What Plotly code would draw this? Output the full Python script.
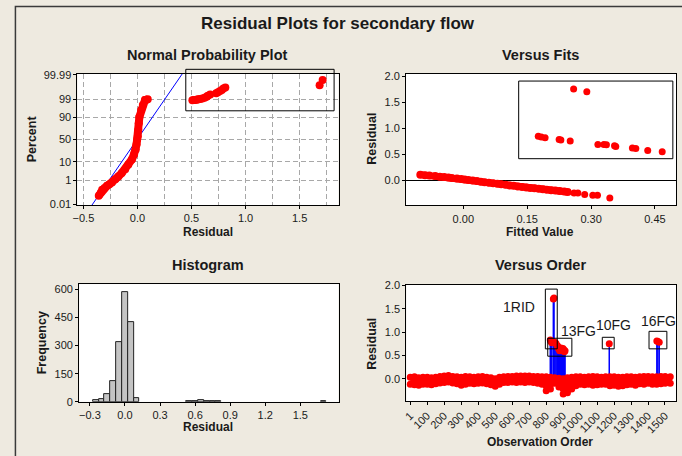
import plotly.graph_objects as go
from statistics import NormalDist

W, H = 682, 456
BG = "#EEEAE0"
RED = "#FF0000"
BLUE = "#0000FF"
FONT = "Liberation Sans"
TXT = "#1a1a1a"

# ---------------- Normal probability plot data ----------------
npp_resid = [-0.358, -0.34, -0.327, -0.305, -0.282, -0.26, -0.236, -0.205, -0.177, -0.145,
             -0.113, -0.085, -0.052, -0.032, -0.016, -0.009, -0.003, 0.003, 0.008, 0.012,
             0.018, 0.034, 0.05, 0.07, 0.083, 0.095]
npp_pct = [0.064, 0.114, 0.2, 0.28, 0.4, 0.52, 0.69, 1.13, 1.7, 2.81,
           4.46, 7.35, 12.7, 19.8, 28.4, 39, 50, 57.5, 70.9, 82.6,
           90.3, 95.5, 97.6, 98.84, 98.9, 98.96]
npp_out_resid = [0.508, 0.52, 0.53, 0.544, 0.555, 0.565, 0.581, 0.60, 0.621, 0.64,
                 0.651, 0.673, 0.728, 0.745, 0.764, 0.78, 0.795, 0.813, 1.685, 1.713]
npp_out_pct = [98.78, 98.82, 98.85, 98.9, 98.93, 98.95, 99.0, 99.08, 99.18, 99.3,
               99.41, 99.52, 99.6, 99.67, 99.73, 99.78, 99.83, 99.86, 99.91, 99.968]
npp_fit_mean = -0.004
npp_fit_sd = 0.111
npp_pct_ticks = [0.01, 1, 10, 50, 90, 99, 99.99]
npp_pct_text = ["0.01", "1", "10", "50", "90", "99", "99.99"]
npp_x_ticks = [-0.5, 0.0, 0.5, 1.0, 1.5]
npp_box_resid = [0.447, 1.819]
npp_box_pct = [95.05, 99.9972]

# ---------------- Versus fits data ----------------
fits_band_x = [-0.101, -0.09, -0.08, -0.066, -0.055, -0.045, -0.035, -0.027,
               -0.015, -0.005, 0.003, 0.012, 0.022, 0.032, 0.041, 0.05, 0.06,
               0.07, 0.08, 0.089, 0.099, 0.109, 0.118, 0.128, 0.138, 0.148, 0.157,
               0.167, 0.177, 0.187, 0.196, 0.206, 0.216, 0.226, 0.237, 0.245]
fits_band_y = [0.114, 0.104, 0.097, 0.088, 0.075, 0.068, 0.058, 0.050,
               0.038, 0.030, 0.020, 0.011, 0.000, -0.010, -0.020, -0.032, -0.040,
               -0.052, -0.060, -0.070, -0.080, -0.092, -0.100, -0.115, -0.122, -0.130, -0.140,
               -0.147, -0.158, -0.168, -0.175, -0.185, -0.192, -0.200, -0.210, -0.217]
fits_tail_x = [0.26, 0.269, 0.285, 0.304, 0.315, 0.344]
fits_tail_y = [-0.236, -0.236, -0.267, -0.28, -0.28, -0.331]
fits_out_x = [0.259, 0.290, 0.176, 0.183, 0.192, 0.225, 0.229, 0.251, 0.316, 0.330,
              0.336, 0.355, 0.358, 0.397, 0.405, 0.433, 0.467]
fits_out_y = [1.752, 1.702, 0.851, 0.832, 0.819, 0.787, 0.775, 0.756, 0.692, 0.692,
              0.686, 0.667, 0.654, 0.622, 0.616, 0.578, 0.552]
fits_box_x = [0.130, 0.492]
fits_box_y = [0.419, 1.905]

# ---------------- Histogram data ----------------
hist_mid = [-0.25, -0.2, -0.15, -0.1, -0.05, 0.0, 0.05, 0.1, 0.55, 0.6, 0.65, 0.7, 0.75, 0.8, 1.7]
hist_count = [7, 15, 40, 108, 317, 588, 425, 22, 2, 3, 9, 2, 3, 3, 2]
hist_width = 0.05

# ---------------- Versus order data ----------------
band_obs = [1, 26, 51, 76, 101, 126, 151, 176, 201, 226, 251, 276, 301, 326, 351, 376, 401, 426,
            451, 476, 501, 526, 551, 576, 601, 626, 651, 676, 701, 726, 751, 776, 801, 826, 851,
            876, 901, 926, 951, 976, 1001, 1026, 1051, 1076, 1101, 1126, 1151, 1176, 1201, 1226,
            1251, 1276, 1301, 1326, 1351, 1376, 1401, 1426, 1451, 1476, 1501, 1531]
band_hi = [0.03, 0.04, 0.02, 0.03, 0.03, 0.02, 0.03, 0.05, 0.06, 0.07, 0.05, 0.04, 0.03, 0.05, 0.04, 0.03,
           0.04, 0.05, 0.03, 0.02, 0.00, 0.03, 0.04, 0.05, 0.05, 0.06, 0.06, 0.06, 0.06, 0.05, 0.05, 0.04,
           0.04, 0.03, 0.02, 0.01, 0.00, 0.02, 0.03, 0.04, 0.04, 0.03, 0.04, 0.05, 0.04, 0.03, 0.04, 0.04,
           0.04, 0.03, 0.03, 0.04, 0.04, 0.03, 0.04, 0.05, 0.05, 0.04, 0.04, 0.05, 0.05, 0.04]
band_lo = [-0.12, -0.13, -0.14, -0.12, -0.12, -0.13, -0.11, -0.09, -0.08, -0.07, -0.09, -0.11, -0.14, -0.12,
           -0.10, -0.11, -0.10, -0.09, -0.11, -0.13, -0.16, -0.12, -0.08, -0.08, -0.07, -0.08, -0.07, -0.08,
           -0.07, -0.08, -0.10, -0.12, -0.26, -0.22, -0.10, -0.18, -0.33, -0.30, -0.22, -0.15, -0.12, -0.13,
           -0.12, -0.14, -0.13, -0.12, -0.12, -0.15, -0.14, -0.16, -0.15, -0.13, -0.12, -0.14, -0.11, -0.12,
           -0.10, -0.12, -0.12, -0.11, -0.10, -0.10]
spike_obs = [825, 829, 834, 843, 847, 852, 858, 864, 868, 872, 876, 880, 884, 888, 892, 896,
             900, 904, 908, 912, 1172, 1452, 1458, 1466]
spike_val = [0.83, 0.80, 0.77, 1.71, 1.73, 0.78, 0.76, 0.72, 0.70, 0.66, 0.64, 0.60, 0.62, 0.66, 0.63, 0.60,
             0.65, 0.62, 0.58, 0.60, 0.75, 0.81, 0.80, 0.78]
order_ticks = [1, 100, 200, 300, 400, 500, 600, 700, 800, 900, 1000, 1100, 1200, 1300, 1400, 1500]
order_labels = ["1RID", "13FG", "10FG", "16FG"]
order_label_obs = [638, 989, 1199, 1462]
order_label_res = [1.545, 1.03, 1.15, 1.23]
order_box_obs = [[796, 866], [810, 952], [1131, 1201], [1406, 1511]]
order_box_res = [[0.641, 1.923], [0.483, 0.868], [0.641, 0.889], [0.641, 1.017]]

# ---------------- layout geometry ----------------
# vertical placement is corrected for the slight vertical squeeze seen in the rendered photo
Y_OFF, Y_SCALE = 3.0, 0.98

def px_x(p):
    return p / W

def px_y(p):
    return 1 - ((p - Y_OFF) / Y_SCALE) / H

dom = {
    "npp": ([px_x(73), px_x(336)], [px_y(204), px_y(72.3)]),
    "fits": ([px_x(404), px_x(676)], [px_y(204.3), px_y(72.3)]),
    "hist": ([px_x(74.7), px_x(336)], [px_y(401.5), px_y(283.3)]),
    "order": ([px_x(404.3), px_x(676)], [px_y(400.7), px_y(284)]),
}
rng = {
    "npp": ([-0.555, 1.86], [-3.76, 3.76]),
    "fits": ([-0.1345, 0.4995], [-0.476, 2.04]),
    "hist": ([-0.392, 1.827], [0, 628]),
    "order": ([-22, 1565], [-0.479, 2.015]),
}

def to_paper(v, r, d):
    return d[0] + (v - r[0]) / (r[1] - r[0]) * (d[1] - d[0])

nd = NormalDist()
def zval(p):
    return nd.inv_cdf(p / 100.0)

fig = go.Figure()
mk = dict(color=RED, size=8, line=dict(width=0))

# Normal probability plot
zl = [rng["npp"][1][0], rng["npp"][1][1]]
fig.add_trace(go.Scatter(x=[npp_fit_mean + npp_fit_sd * z for z in zl], y=zl, mode="lines",
                         line=dict(color=BLUE, width=1), xaxis="x", yaxis="y", hoverinfo="skip"))
fig.add_trace(go.Scatter(x=npp_resid, y=[zval(p) for p in npp_pct], mode="lines+markers",
                         line=dict(color=RED, width=8), marker=mk, xaxis="x", yaxis="y"))
fig.add_trace(go.Scatter(x=npp_out_resid, y=[zval(p) for p in npp_out_pct], mode="markers",
                         marker=mk, xaxis="x", yaxis="y"))

# Versus fits
fig.add_trace(go.Scatter(x=fits_band_x, y=fits_band_y, mode="lines+markers", line=dict(color=RED, width=7),
                         marker=mk, xaxis="x2", yaxis="y2"))
fig.add_trace(go.Scatter(x=fits_tail_x + fits_out_x, y=fits_tail_y + fits_out_y, mode="markers",
                         marker=dict(color=RED, size=7, line=dict(width=0)), xaxis="x2", yaxis="y2"))

# Histogram
fig.add_trace(go.Bar(x=hist_mid, y=hist_count, width=hist_width,
                     marker=dict(color="#C4C4C4", line=dict(color="#222222", width=1)),
                     xaxis="x3", yaxis="y3"))

# Versus order
sx, sy = [], []
for o, v in zip(spike_obs, spike_val):
    sx += [o, o, None]
    sy += [0.0, v, None]
fig.add_trace(go.Scatter(x=sx, y=sy, mode="lines", line=dict(color=BLUE, width=1.5),
                         xaxis="x4", yaxis="y4", hoverinfo="skip"))
fig.add_trace(go.Scatter(x=band_obs + band_obs[::-1], y=band_hi + band_lo[::-1], mode="lines",
                         fill="toself", fillcolor=RED, line=dict(color=RED, width=2),
                         xaxis="x4", yaxis="y4", hoverinfo="skip"))
fig.add_trace(go.Scatter(x=band_obs * 2, y=band_hi + band_lo, mode="markers",
                         marker=dict(color=RED, size=7, line=dict(width=0)), xaxis="x4", yaxis="y4"))
fig.add_trace(go.Scatter(x=spike_obs, y=spike_val, mode="markers",
                         marker=dict(color=RED, size=7, line=dict(width=0)), xaxis="x4", yaxis="y4"))

def axis(d, r, **kw):
    base = dict(domain=d, range=r, showline=True, linecolor="black", linewidth=1, mirror=True,
                ticks="outside", ticklen=3, tickcolor="black", showgrid=False, zeroline=False,
                tickfont=dict(family=FONT, size=11, color=TXT), fixedrange=True)
    base.update(kw)
    return base

grid = dict(showgrid=True, gridcolor="#A8A8A8", gridwidth=1, griddash="5px,3px")

layout_axes = dict(
    xaxis=axis(dom["npp"][0], rng["npp"][0], anchor="y", tickvals=npp_x_ticks, tickformat=".1f",
               minor=dict(dtick=0.25, tick0=0, **grid, ticks=""), **grid),
    yaxis=axis(dom["npp"][1], rng["npp"][1], anchor="x", tickvals=[zval(p) for p in npp_pct_ticks],
               ticktext=npp_pct_text, **grid),
    xaxis2=axis(dom["fits"][0], rng["fits"][0], anchor="y2", tickvals=[0.0, 0.15, 0.30, 0.45], tickformat=".2f"),
    yaxis2=axis(dom["fits"][1], rng["fits"][1], anchor="x2", tickvals=[0, 0.5, 1.0, 1.5, 2.0], tickformat=".1f",
                zeroline=True, zerolinecolor="black", zerolinewidth=1),
    xaxis3=axis(dom["hist"][0], rng["hist"][0], anchor="y3", tickvals=[-0.3, 0, 0.3, 0.6, 0.9, 1.2, 1.5], tickformat=".1f"),
    yaxis3=axis(dom["hist"][1], rng["hist"][1], anchor="x3", tickvals=[0, 150, 300, 450, 600]),
    xaxis4=axis(dom["order"][0], rng["order"][0], anchor="y4", tickvals=order_ticks,
                ticktext=[str(t) for t in order_ticks], tickangle=-45),
    yaxis4=axis(dom["order"][1], rng["order"][1], anchor="x4", tickvals=[0, 0.5, 1.0, 1.5, 2.0], tickformat=".1f"),
)

shapes = []
# figure frame
shapes.append(dict(type="rect", xref="paper", yref="paper", x0=px_x(10.5), x1=1.02, y0=-0.03, y1=px_y(4.5),
                   line=dict(color="#3a3a3a", width=1.5), fillcolor="rgba(0,0,0,0)", layer="below"))
# npp highlight box (converted from data to paper so it may extend above the plot)
shapes.append(dict(type="rect", xref="paper", yref="paper",
                   x0=to_paper(npp_box_resid[0], rng["npp"][0], dom["npp"][0]),
                   x1=to_paper(npp_box_resid[1], rng["npp"][0], dom["npp"][0]),
                   y0=to_paper(zval(npp_box_pct[0]), rng["npp"][1], dom["npp"][1]),
                   y1=to_paper(zval(npp_box_pct[1]), rng["npp"][1], dom["npp"][1]),
                   line=dict(color="black", width=1)))
shapes.append(dict(type="rect", xref="x2", yref="y2", x0=fits_box_x[0], x1=fits_box_x[1],
                   y0=fits_box_y[0], y1=fits_box_y[1], line=dict(color="black", width=1)))
for bx, by in zip(order_box_obs, order_box_res):
    shapes.append(dict(type="rect", xref="x4", yref="y4", x0=bx[0], x1=bx[1], y0=by[0], y1=by[1],
                       line=dict(color="black", width=1)))

ann = []
def text(t, x, y, size=12, bold=True, angle=0):
    ann.append(dict(text=("<b>%s</b>" % t) if bold else t, x=px_x(x), y=px_y(y), xref="paper", yref="paper",
                    showarrow=False, textangle=angle, xanchor="center", yanchor="middle",
                    font=dict(family=FONT, size=size, color=TXT)))

text("Residual Plots for secondary flow", 335, 22, size=17)
text("Normal Probability Plot", 204, 53, size=14.5)
text("Versus Fits", 539, 53, size=14.5)
text("Histogram", 205, 264, size=14.5)
text("Versus Order", 539, 264, size=14.5)
text("Percent", 28, 137, size=12.5, angle=-90)
text("Residual", 205, 231, size=12)
text("Residual", 370, 137, size=12.5, angle=-90)
text("Fitted Value", 539, 231, size=12)
text("Frequency", 37, 342, size=12.5, angle=-90)
text("Residual", 205, 427, size=12)
text("Residual", 369, 343, size=12.5, angle=-90)
text("Observation Order", 539, 442, size=12)
for t, o, r in zip(order_labels, order_label_obs, order_label_res):
    ann.append(dict(text=t, x=o, y=r, xref="x4", yref="y4", showarrow=False,
                    font=dict(family=FONT, size=14, color=TXT)))

fig.update_layout(width=W, height=H, margin=dict(l=0, r=0, t=0, b=0), paper_bgcolor=BG,
                  plot_bgcolor="white", showlegend=False, shapes=shapes, annotations=ann,
                  bargap=0, **layout_axes)
fig.write_html("out.html", config={"displayModeBar": False},
               post_script="document.documentElement.style.overflow='hidden';"
                           "document.body.style.margin='0';document.body.style.overflow='hidden';")
